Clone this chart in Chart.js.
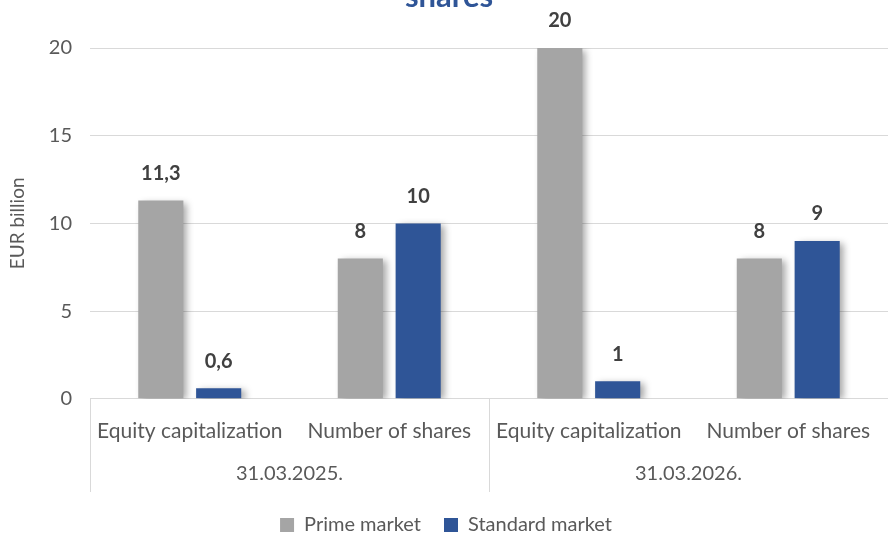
<!DOCTYPE html>
<html>
<head>
<meta charset="utf-8">
<script src="https://cdn.jsdelivr.net/npm/chart.js@4/dist/chart.umd.min.js"></script>
<style>
  html, body { margin: 0; padding: 0; background: #fff; }
  #wrap { width: 888px; height: 535px; position: relative; }
</style>
</head>
<body>
<div id="wrap"><canvas id="grafico"></canvas></div>
<script>
// datos del gráfico
const categorias = ["Equity capitalization", "Number of shares", "Equity capitalization", "Number of shares"];
const grupos = ["31.03.2025.", "31.03.2026."];
const primeMarket = [11.3, 8, 20, 8];
const standardMarket = [0.6, 10, 1, 9];
const tituloVisible = "shares";

const FUENTE = "Lato, sans-serif";
const GRIS_TEXTO = "#595959";

// sombra de las barras
const sombraBarras = {
  id: "sombraBarras",
  beforeDatasetsDraw(chart) {
    const ctx = chart.ctx;
    ctx.save();
    ctx.shadowColor = "rgba(0,0,0,0.35)";
    ctx.shadowBlur = 7;
    ctx.shadowOffsetX = 4;
    ctx.shadowOffsetY = 2;
  },
  afterDatasetsDraw(chart) {
    chart.ctx.restore();
  }
};

// etiquetas encima de las barras
const etiquetasBarras = {
  id: "etiquetasBarras",
  afterDatasetsDraw(chart) {
    const ctx = chart.ctx;
    ctx.save();
    ctx.font = "bold 20px " + FUENTE;
    ctx.fillStyle = "#404040";
    ctx.textAlign = "center";
    ctx.textBaseline = "middle";
    chart.data.datasets.forEach((ds, i) => {
      chart.getDatasetMeta(i).data.forEach((bar, j) => {
        const txt = String(ds.data[j]).replace(".", ",");
        ctx.fillText(txt, bar.x, bar.y - 27);
      });
    });
    ctx.restore();
  }
};

// título recortado y separadores del eje x
const extras = {
  id: "extras",
  afterDraw(chart) {
    const ctx = chart.ctx;
    ctx.save();
    ctx.font = "bold 31px " + FUENTE;
    ctx.fillStyle = "#2F5597";
    ctx.textAlign = "center";
    ctx.textBaseline = "alphabetic";
    ctx.fillText(tituloVisible, 449, 7);

    const x = chart.scales.x;
    const x2 = chart.scales.x2;
    const paso = x.getPixelForValue(1) - x.getPixelForValue(0);
    const bordes = [x.getPixelForValue(0) - paso / 2, x.getPixelForValue(1) + paso / 2, x.getPixelForValue(3) + paso / 2];
    ctx.strokeStyle = "#d9d9d9";
    ctx.lineWidth = 1;
    bordes.forEach(px => {
      const xx = Math.round(px) + 0.5;
      ctx.beginPath();
      ctx.moveTo(xx, chart.chartArea.bottom);
      ctx.lineTo(xx, x2.bottom);
      ctx.stroke();
    });
    ctx.restore();
  }
};

new Chart(document.getElementById("grafico"), {
  type: "bar",
  data: {
    labels: categorias,
    datasets: [
      { label: "Prime market", data: primeMarket, backgroundColor: "#A5A5A5" },
      { label: "Standard market", data: standardMarket, backgroundColor: "#2F5597" }
    ]
  },
  options: {
    responsive: true,
    maintainAspectRatio: false,
    animation: false,
    categoryPercentage: 0.58,
    barPercentage: 0.78,
    layout: { padding: { top: 48, right: 0, left: 4, bottom: -10 } },
    plugins: {
      legend: {
        position: "bottom",
        labels: { boxWidth: 14, boxHeight: 14, font: { family: FUENTE, size: 20 }, color: GRIS_TEXTO, padding: 23 }
      },
      tooltip: { enabled: false },
      title: { display: false }
    },
    scales: {
      x: {
        grid: { display: false },
        border: { display: false },
        ticks: { font: { family: FUENTE, size: 21 }, color: GRIS_TEXTO, padding: 12, maxRotation: 0, autoSkip: false }
      },
      x2: {
        type: "category",
        labels: grupos,
        position: "bottom",
        grid: { display: false, drawTicks: false },
        border: { display: false },
        ticks: { font: { family: FUENTE, size: 20 }, color: GRIS_TEXTO, padding: 6 }
      },
      y: {
        min: 0,
        max: 20,
        ticks: { stepSize: 5, font: { family: FUENTE, size: 20 }, color: GRIS_TEXTO, padding: 18 },
        grid: { color: "#d9d9d9", drawTicks: false },
        border: { display: false },
        title: { display: true, text: "EUR billion", font: { family: FUENTE, size: 19 }, color: GRIS_TEXTO, padding: 2 }
      }
    }
  },
  plugins: [sombraBarras, etiquetasBarras, extras]
});
</script>
</body>
</html>
